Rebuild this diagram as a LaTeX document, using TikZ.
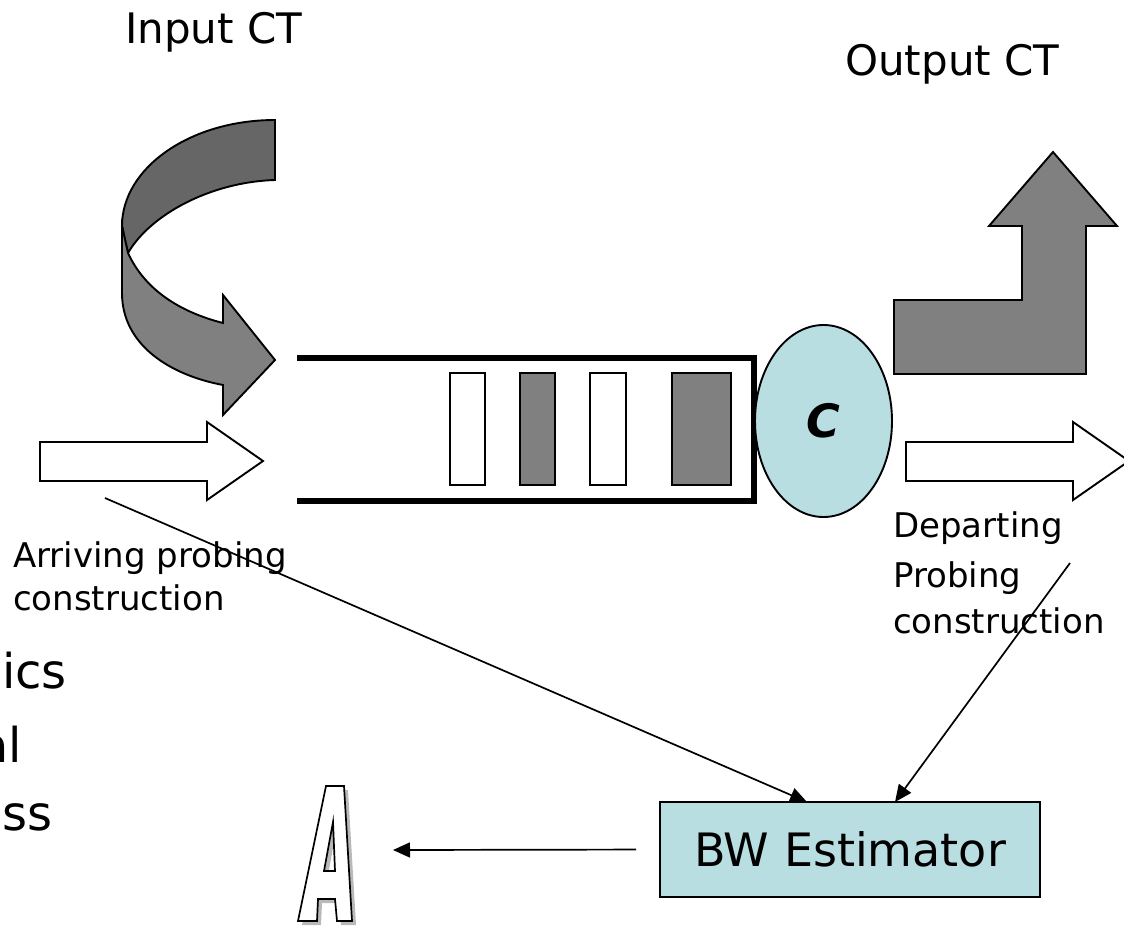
\documentclass[tikz,border=0pt]{standalone}
\usepackage{fontspec}
\setmainfont{DejaVu Sans}
\usetikzlibrary{shapes.geometric,arrows.meta,calc}
\definecolor{darkband}{HTML}{666666}
\definecolor{midgray}{HTML}{808080}
\definecolor{paleblue}{RGB}{184,222,226}
\tikzset{
  outline/.style={draw=black,line width=1.9pt,line join=miter},
  conn/.style={draw=black,line width=1.7pt,-{Triangle[length=17pt,width=15pt]}},
  lbl/.style={inner sep=0pt,anchor=base west,font=\fontsize{34}{40}\selectfont},
  title/.style={inner sep=0pt,anchor=base west,font=\fontsize{42}{48}\selectfont},
  bullet/.style={inner sep=0pt,anchor=base east,font=\fontsize{48}{56}\selectfont},
  packet/.style={outline,line width=2pt},
}
\begin{document}
\begin{tikzpicture}[x=1pt,y=-1pt]
\useasboundingbox (0,0) rectangle (1124,927);
\clip (0,0) rectangle (1124,927);
\fill[white] (0,0) rectangle (1124,927);

% titles
\node[title] (intitle) at (125,43) {Input CT};
\node[title] (outtitle) at (845,75) {Output CT};

% curved input arrow: upper (back) band
\path[outline,fill=darkband]
  (275,120) .. controls (190,120) and (122,168) .. (122,226)
  -- (128,253) .. controls (150,215) and (210,182) .. (275,180) -- cycle;
% curved input arrow: lower (front) band with head
\path[outline,fill=midgray]
  (122,226) -- (122,293) .. controls (122,345) and (170,375) .. (223,385)
  -- (223,415) -- (275,360) -- (223,295) -- (223,323)
  .. controls (180,312) and (145,290) .. (128,253) -- cycle;

% output arrow (L shape)
\path[outline,fill=midgray]
  (894,300) -- (1022,300) -- (1022,226) -- (989,226) -- (1053,152)
  -- (1117,226) -- (1086,226) -- (1086,374) -- (894,374) -- cycle;

% probing arrows
\path[outline,fill=white]
  (40,442) -- (207,442) -- (207,422) -- (263,461) -- (207,500) -- (207,481) -- (40,481) -- cycle;
\path[outline,fill=white]
  (906,442) -- (1073,442) -- (1073,422) -- (1129,461) -- (1073,500) -- (1073,481) -- (906,481) -- cycle;

% queue
\draw[line width=5.5pt,line join=miter] (297,358) -- (754,358) -- (754,501) -- (297,501);
\path[packet,fill=white]    (450,373) rectangle (485,485);
\path[packet,fill=midgray]  (520,373) rectangle (555,485);
\path[packet,fill=white]    (590,373) rectangle (626,485);
\path[packet,fill=midgray]  (672,373) rectangle (731,485);

% server
\node[ellipse,outline,fill=paleblue,minimum width=137pt,minimum height=192pt,inner sep=0pt,
      font=\fontsize{46}{50}\selectfont\bfseries\itshape] (srv) at (823.5,421) {C};

% labels
\node[lbl] (arr1) at (13,567) {Arriving probing};
\node[lbl] (arr2) at (13,610) {construction};
\node[lbl] (dep1) at (893,537) {Departing};
\node[lbl] (dep2) at (893,587) {Probing};
\node[lbl] (dep3) at (893,633) {construction};

% text running in from the left edge
\node[bullet] (b1) at (67,688) {ics};
\node[bullet] (b2) at (22,762) {al};
\node[bullet] (b3) at (53,830) {ss};

% estimator
\node[outline,fill=paleblue,minimum width=380pt,minimum height=95pt,inner sep=0pt,
      font=\fontsize{46}{50}\selectfont] (bw) at (850,849.5) {BW Estimator};

% connectors
\coordinate (arrtail) at (105,498);
\coordinate (deptail) at (1070,563);
\coordinate (bwin1) at (807,802);
\coordinate (bwin2) at (895,802);
\coordinate (atip) at (393,850);
\draw[conn] (arrtail) -- (bwin1);
\draw[conn] (deptail) -- (bwin2);
\draw[conn,shorten <=23pt] (bw.west) -- (atip);

% outlined letter A with shadow
\begin{scope}[shift={(4,4)}]
  \fill[gray!55,even odd rule]
    (326,786) -- (344,786) -- (352,921) -- (337,921) -- (335,899) -- (318,899)
    -- (317,921) -- (298,921) -- cycle
    (333,822) -- (335,871) -- (324,871) -- cycle;
\end{scope}
\path[draw=black,line width=1.7pt,fill=white,even odd rule]
    (326,786) -- (344,786) -- (352,921) -- (337,921) -- (335,899) -- (318,899)
    -- (317,921) -- (298,921) -- cycle
    (333,822) -- (335,871) -- (324,871) -- cycle;
\end{tikzpicture}
\end{document}
